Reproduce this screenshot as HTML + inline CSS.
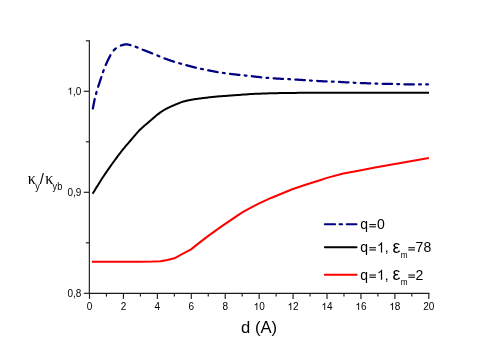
<!DOCTYPE html><html><head><meta charset="utf-8"><title>chart</title><style>html,body{margin:0;padding:0;background:#fff}svg{display:block;will-change:transform}text{font-family:"Liberation Sans",sans-serif;fill:#000}</style></head><body>
<svg width="498" height="352" viewBox="0 0 498 352">
<rect width="498" height="352" fill="#fff"/>
<g stroke="#1c1c1c" stroke-width="1.15" fill="none">
<path d="M89.35,40.20 V293.90"/>
<path d="M88.75,293.30 H429.40"/>
<path d="M89.50,293.30 v5.60"/>
<path d="M106.47,293.30 v3.30"/>
<path d="M123.43,293.30 v5.60"/>
<path d="M140.39,293.30 v3.30"/>
<path d="M157.36,293.30 v5.60"/>
<path d="M174.32,293.30 v3.30"/>
<path d="M191.29,293.30 v5.60"/>
<path d="M208.25,293.30 v3.30"/>
<path d="M225.22,293.30 v5.60"/>
<path d="M242.19,293.30 v3.30"/>
<path d="M259.15,293.30 v5.60"/>
<path d="M276.12,293.30 v3.30"/>
<path d="M293.08,293.30 v5.60"/>
<path d="M310.04,293.30 v3.30"/>
<path d="M327.01,293.30 v5.60"/>
<path d="M343.98,293.30 v3.30"/>
<path d="M360.94,293.30 v5.60"/>
<path d="M377.90,293.30 v3.30"/>
<path d="M394.87,293.30 v5.60"/>
<path d="M411.83,293.30 v3.30"/>
<path d="M428.80,293.30 v5.60"/>
<path d="M89.35,293.30 h-5.60"/>
<path d="M89.35,242.80 h-3.50"/>
<path d="M89.35,192.30 h-5.60"/>
<path d="M89.35,141.80 h-3.50"/>
<path d="M89.35,91.30 h-5.60"/>
<path d="M89.35,40.80 h-3.50"/>
</g>
<text x="86.72" y="310.00" font-size="10.00">0</text>
<text x="120.65" y="310.00" font-size="10.00">2</text>
<text x="154.58" y="310.00" font-size="10.00">4</text>
<text x="188.51" y="310.00" font-size="10.00">6</text>
<text x="222.44" y="310.00" font-size="10.00">8</text>
<path d="M763,0H583V1147Q518,1085 412.5,1023Q307,961 223,930V1104Q374,1175 487,1276Q600,1377 647,1472H763Z" transform="translate(253.59,310.00) scale(0.00488,-0.00488)" fill="#000"/>
<text x="259.15" y="310.00" font-size="10.00">0</text>
<path d="M763,0H583V1147Q518,1085 412.5,1023Q307,961 223,930V1104Q374,1175 487,1276Q600,1377 647,1472H763Z" transform="translate(287.52,310.00) scale(0.00488,-0.00488)" fill="#000"/>
<text x="293.08" y="310.00" font-size="10.00">2</text>
<path d="M763,0H583V1147Q518,1085 412.5,1023Q307,961 223,930V1104Q374,1175 487,1276Q600,1377 647,1472H763Z" transform="translate(321.45,310.00) scale(0.00488,-0.00488)" fill="#000"/>
<text x="327.01" y="310.00" font-size="10.00">4</text>
<path d="M763,0H583V1147Q518,1085 412.5,1023Q307,961 223,930V1104Q374,1175 487,1276Q600,1377 647,1472H763Z" transform="translate(355.38,310.00) scale(0.00488,-0.00488)" fill="#000"/>
<text x="360.94" y="310.00" font-size="10.00">6</text>
<path d="M763,0H583V1147Q518,1085 412.5,1023Q307,961 223,930V1104Q374,1175 487,1276Q600,1377 647,1472H763Z" transform="translate(389.31,310.00) scale(0.00488,-0.00488)" fill="#000"/>
<text x="394.87" y="310.00" font-size="10.00">8</text>
<text x="423.24" y="310.00" font-size="10.00">20</text>
<text x="67.40" y="296.60" font-size="10.00">0,8</text>
<text x="67.40" y="195.60" font-size="10.00">0,9</text>
<path d="M763,0H583V1147Q518,1085 412.5,1023Q307,961 223,930V1104Q374,1175 487,1276Q600,1377 647,1472H763Z" transform="translate(67.40,94.60) scale(0.00488,-0.00488)" fill="#000"/>
<text x="72.96" y="94.60" font-size="10.00">,0</text>
<text x="259.1" y="333.3" font-size="16.6" text-anchor="middle">d (A)</text>
<text y="183.6" font-size="16"><tspan x="27.8" font-family="Liberation Serif">κ</tspan><tspan x="35.3" font-size="11" dy="6.3" textLength="4.6" lengthAdjust="spacingAndGlyphs">y</tspan><tspan x="39.7" dy="-6.3" font-size="15">/</tspan><tspan x="45.3" font-family="Liberation Serif">κ</tspan><tspan x="52.6" font-size="11" dy="6.3" textLength="9.6" lengthAdjust="spacingAndGlyphs">yb</tspan></text>
<g fill="none" stroke="#000080" stroke-width="2.25" stroke-linejoin="round" stroke-linecap="round">
<path d="M92.86,108.42 L93.05,107.48 L93.25,106.45 L93.45,105.42 L93.65,104.39 L93.85,103.37 L94.05,102.35 L94.25,101.34 L94.46,100.35 L94.67,99.38 L94.75,99.01"/>
<path d="M96.04,93.85 L96.18,93.34 L96.40,92.56 L96.57,91.99"/>
<path d="M98.16,86.76 L98.19,86.66 L98.51,85.68 L98.83,84.66 L99.17,83.63 L99.52,82.57 L99.87,81.51 L100.22,80.45 L100.57,79.41 L100.92,78.38 L101.26,77.38 L101.33,77.18"/>
<path d="M103.04,72.07 L103.22,71.51 L103.47,70.78 L103.68,70.17"/>
<path d="M105.72,65.00 L105.98,64.40 L106.41,63.45 L106.86,62.47 L107.32,61.47 L107.79,60.48 L108.27,59.50 L108.74,58.54 L109.21,57.62 L109.66,56.75 L110.09,55.94 L110.44,55.30"/>
<path d="M113.68,50.45 L113.92,50.18 L114.30,49.79 L114.70,49.40 L115.13,49.01 L115.58,48.64 L115.84,48.44"/>
<path d="M120.88,45.59 L120.97,45.55 L121.43,45.37 L121.89,45.20 L122.35,45.05 L122.81,44.92 L123.26,44.80 L123.71,44.70 L124.16,44.61 L124.60,44.54 L125.04,44.48 L125.47,44.43 L125.90,44.40 L126.32,44.39 L126.73,44.39 L127.13,44.41 L127.52,44.45 L127.91,44.51 L128.29,44.58 L128.68,44.65 L129.07,44.74 L129.46,44.84 L129.87,44.94 L130.28,45.04 L130.49,45.10"/>
<path d="M135.61,46.78 L135.73,46.82 L136.20,47.00 L136.65,47.18 L137.08,47.35 L137.49,47.52 L137.54,47.54"/>
<path d="M142.70,49.72 L143.40,49.99 L144.24,50.32 L145.12,50.66 L146.04,51.01 L146.98,51.37 L147.94,51.74 L148.91,52.12 L149.88,52.49 L150.84,52.87 L151.78,53.24 L152.33,53.45"/>
<path d="M157.39,55.53 L158.08,55.82 L158.97,56.19 L159.33,56.34"/>
<path d="M164.51,58.38 L165.35,58.69 L166.29,59.03 L167.23,59.37 L168.17,59.71 L169.12,60.04 L170.06,60.36 L171.00,60.69 L171.94,61.00 L172.87,61.31 L173.79,61.61 L174.11,61.71"/>
<path d="M179.23,63.26 L179.95,63.46 L180.81,63.70 L181.09,63.78"/>
<path d="M186.33,65.21 L187.03,65.40 L187.96,65.65 L188.90,65.90 L189.84,66.15 L190.78,66.39 L191.73,66.64 L192.67,66.88 L193.61,67.12 L194.55,67.35 L195.48,67.58 L195.89,67.68"/>
<path d="M201.05,68.84 L201.81,69.00 L202.70,69.19 L202.88,69.22"/>
<path d="M208.15,70.29 L209.04,70.47 L209.97,70.65 L210.90,70.84 L211.83,71.02 L212.76,71.20 L213.70,71.38 L214.63,71.55 L215.55,71.72 L216.48,71.89 L217.39,72.05 L217.67,72.09"/>
<path d="M222.86,72.89 L223.61,73.00 L224.49,73.12 L224.67,73.14"/>
<path d="M229.96,73.84 L230.70,73.93 L231.60,74.04 L232.51,74.16 L233.42,74.27 L234.33,74.38 L235.24,74.48 L236.16,74.59 L237.07,74.69 L237.98,74.80 L238.89,74.90 L239.46,74.96"/>
<path d="M244.66,75.50 L245.21,75.55 L246.12,75.64 L246.46,75.67"/>
<path d="M251.76,76.22 L252.59,76.31 L253.56,76.42 L254.53,76.53 L255.50,76.65 L256.47,76.76 L257.45,76.88 L258.42,76.99 L259.38,77.10 L260.33,77.20 L261.26,77.30"/>
<path d="M266.47,77.80 L266.63,77.82 L267.49,77.89 L268.26,77.96"/>
<path d="M273.57,78.36 L273.59,78.36 L274.48,78.42 L275.38,78.47 L276.27,78.52 L277.17,78.57 L278.07,78.62 L278.98,78.67 L279.88,78.71 L280.79,78.76 L281.69,78.80 L282.60,78.85 L283.06,78.88"/>
<path d="M288.27,79.16 L288.93,79.19 L289.83,79.24 L290.06,79.26"/>
<path d="M295.37,79.56 L296.26,79.61 L297.19,79.67 L298.13,79.73 L299.07,79.78 L300.01,79.84 L300.95,79.90 L301.89,79.96 L302.83,80.02 L303.76,80.08 L304.68,80.14 L304.86,80.15"/>
<path d="M310.07,80.50 L310.07,80.50 L310.95,80.56 L311.83,80.62 L311.86,80.62"/>
<path d="M317.17,80.95 L317.22,80.95 L318.14,81.01 L319.07,81.06 L320.01,81.11 L320.95,81.17 L321.89,81.22 L322.84,81.27 L323.78,81.32 L324.72,81.37 L325.65,81.41 L326.58,81.46 L326.66,81.46"/>
<path d="M331.87,81.67 L332.01,81.67 L332.91,81.70 L333.66,81.72"/>
<path d="M338.97,81.93 L339.22,81.94 L340.14,81.99 L341.07,82.04 L342.00,82.09 L342.94,82.14 L343.87,82.19 L344.81,82.25 L345.74,82.30 L346.67,82.35 L347.59,82.40 L348.46,82.45"/>
<path d="M353.67,82.72 L353.75,82.72 L354.60,82.76 L355.45,82.80 L355.46,82.80"/>
<path d="M360.77,83.04 L361.61,83.07 L362.53,83.11 L363.46,83.14 L364.39,83.17 L365.32,83.21 L366.26,83.24 L367.20,83.27 L368.13,83.30 L369.06,83.33 L369.98,83.37 L370.26,83.38"/>
<path d="M375.47,83.58 L376.31,83.61 L377.21,83.65 L377.26,83.65"/>
<path d="M382.57,83.82 L382.61,83.82 L383.51,83.84 L384.42,83.86 L385.33,83.88 L386.24,83.89 L387.15,83.91 L388.06,83.92 L388.97,83.93 L389.88,83.95 L390.79,83.96 L391.69,83.98 L392.06,83.99"/>
<path d="M397.27,84.13 L397.96,84.16 L398.86,84.18 L399.06,84.19"/>
<path d="M404.37,84.32 L405.25,84.33 L406.16,84.34 L407.09,84.35 L408.01,84.36 L408.94,84.36 L409.89,84.37 L410.85,84.37 L411.83,84.38 L412.82,84.39 L413.85,84.39 L413.86,84.39"/>
<path d="M419.07,84.43 L419.41,84.43 L420.59,84.44 L420.86,84.44"/>
<path d="M426.17,84.48 L426.62,84.48 L427.82,84.49 L427.90,84.49"/>
</g>
<path d="M92.60,193.80 L93.33,192.60 L94.06,191.41 L94.79,190.22 L95.51,189.03 L96.24,187.84 L96.98,186.64 L97.73,185.42 L98.50,184.20 L99.27,182.98 L100.04,181.76 L100.81,180.54 L101.59,179.31 L102.39,178.06 L103.22,176.78 L104.09,175.46 L105.00,174.10 L105.97,172.68 L106.98,171.20 L108.04,169.68 L109.12,168.14 L110.22,166.58 L111.32,165.03 L112.42,163.50 L113.50,162.00 L114.57,160.53 L115.64,159.06 L116.70,157.60 L117.78,156.15 L118.85,154.71 L119.93,153.29 L121.01,151.89 L122.10,150.50 L123.20,149.14 L124.31,147.79 L125.42,146.47 L126.54,145.16 L127.66,143.86 L128.78,142.57 L129.90,141.28 L131.00,140.00 L132.10,138.71 L133.19,137.41 L134.27,136.11 L135.36,134.83 L136.44,133.56 L137.52,132.33 L138.61,131.14 L139.70,130.00 L140.79,128.93 L141.88,127.92 L142.98,126.95 L144.07,126.02 L145.17,125.10 L146.27,124.19 L147.38,123.26 L148.50,122.30 L149.64,121.30 L150.80,120.28 L151.98,119.24 L153.16,118.20 L154.33,117.18 L155.48,116.20 L156.61,115.26 L157.70,114.40 L158.75,113.60 L159.76,112.86 L160.75,112.16 L161.72,111.49 L162.68,110.86 L163.64,110.26 L164.61,109.67 L165.60,109.10 L166.61,108.55 L167.63,108.02 L168.66,107.53 L169.69,107.05 L170.72,106.59 L171.73,106.15 L172.73,105.72 L173.70,105.30 L174.66,104.88 L175.62,104.48 L176.58,104.08 L177.52,103.70 L178.43,103.34 L179.30,103.00 L180.13,102.68 L180.90,102.40 L181.56,102.16 L182.11,101.96 L182.58,101.79 L183.03,101.64 L183.49,101.50 L184.03,101.35 L184.68,101.19 L185.50,101.00 L186.49,100.78 L187.62,100.55 L188.85,100.30 L190.16,100.04 L191.51,99.79 L192.87,99.54 L194.21,99.31 L195.50,99.10 L196.75,98.91 L198.00,98.73 L199.25,98.56 L200.50,98.40 L201.75,98.25 L203.00,98.10 L204.25,97.95 L205.50,97.80 L206.75,97.65 L208.00,97.50 L209.25,97.36 L210.50,97.22 L211.75,97.08 L213.00,96.95 L214.25,96.82 L215.50,96.70 L216.75,96.58 L218.01,96.48 L219.27,96.37 L220.53,96.28 L221.79,96.18 L223.04,96.09 L224.27,95.99 L225.50,95.90 L226.65,95.81 L227.71,95.73 L228.73,95.65 L229.75,95.58 L230.84,95.50 L232.04,95.41 L233.41,95.31 L235.00,95.20 L236.84,95.07 L238.89,94.91 L241.10,94.75 L243.42,94.57 L245.83,94.40 L248.25,94.23 L250.66,94.08 L253.00,93.95 L255.27,93.84 L257.52,93.74 L259.76,93.65 L262.02,93.57 L264.32,93.50 L266.69,93.43 L269.14,93.37 L271.70,93.30 L274.31,93.24 L276.93,93.18 L279.59,93.12 L282.33,93.07 L285.20,93.02 L288.24,92.97 L291.50,92.93 L295.00,92.90 L298.71,92.87 L302.58,92.85 L306.61,92.84 L310.83,92.83 L315.26,92.82 L319.92,92.81 L324.83,92.81 L330.00,92.80 L335.54,92.80 L341.47,92.79 L347.70,92.79 L354.12,92.79 L360.66,92.80 L367.22,92.80 L373.70,92.80 L380.00,92.80 L386.17,92.80 L392.32,92.80 L398.45,92.80 L404.56,92.80 L410.67,92.80 L416.77,92.80 L422.88,92.80 L429.00,92.80" fill="none" stroke="#000" stroke-width="2.0" stroke-linejoin="round"/>
<path d="M91.90,261.80 L120.00,261.80 L140.00,261.80 L152.50,261.60 L160.50,261.15 L167.50,260.00 L174.40,258.30 L182.50,253.95 L191.00,249.35 L199.50,242.60 L208.60,235.65 L222.30,225.90 L235.90,216.60 L242.70,212.15 L250.00,208.10 L259.10,203.35 L271.10,197.95 L292.20,189.30 L306.30,184.55 L320.00,180.20 L327.00,177.90 L343.30,173.55 L357.20,170.90 L375.00,167.50 L402.00,162.70 L428.90,157.90" fill="none" stroke="#ff0000" stroke-width="2.0" stroke-linejoin="round"/>
<path d="M324.85,224.2 H335.05 M339.55,224.2 H342.05 M346.75,224.2 H356.45" stroke="#000080" stroke-width="2.15" stroke-linecap="round" fill="none"/>
<path d="M324.9,247.2 H356.5" stroke="#000" stroke-width="2.0" stroke-linecap="round" fill="none"/>
<path d="M324.9,274.75 H356.7" stroke="#ff0000" stroke-width="2.0" stroke-linecap="round" fill="none"/>
<text x="360.30" y="229.30" font-size="14.00">q</text>
<path d="M369.29,224.61 H375.94" stroke="#000" stroke-width="1.05" fill="none"/>
<path d="M369.29,226.85 H375.94" stroke="#000" stroke-width="1.05" fill="none"/>
<text x="377.10" y="229.30" font-size="14.00">0</text>
<text x="360.30" y="252.40" font-size="14.00">q</text>
<path d="M369.29,247.71 H375.94" stroke="#000" stroke-width="1.05" fill="none"/>
<path d="M369.29,249.95 H375.94" stroke="#000" stroke-width="1.05" fill="none"/>
<path d="M763,0H583V1147Q518,1085 412.5,1023Q307,961 223,930V1104Q374,1175 487,1276Q600,1377 647,1472H763Z" transform="translate(376.90,252.40) scale(0.00684,-0.00684)" fill="#000"/>
<text x="384.69" y="252.40" font-size="14.00">,</text>
<text y="252.7"><tspan x="392.6" font-size="17.7">ε</tspan><tspan x="400.8" dy="5.1" font-size="8.2">m</tspan></text>
<path d="M408.30,247.71 H414.95" stroke="#000" stroke-width="1.05" fill="none"/>
<path d="M408.30,249.95 H414.95" stroke="#000" stroke-width="1.05" fill="none"/>
<text x="415.60" y="252.40" font-size="14.00">78</text>
<text x="360.30" y="279.70" font-size="14.00">q</text>
<path d="M369.29,275.01 H375.94" stroke="#000" stroke-width="1.05" fill="none"/>
<path d="M369.29,277.25 H375.94" stroke="#000" stroke-width="1.05" fill="none"/>
<path d="M763,0H583V1147Q518,1085 412.5,1023Q307,961 223,930V1104Q374,1175 487,1276Q600,1377 647,1472H763Z" transform="translate(376.90,279.70) scale(0.00684,-0.00684)" fill="#000"/>
<text x="384.69" y="279.70" font-size="14.00">,</text>
<text y="280.0"><tspan x="392.6" font-size="17.7">ε</tspan><tspan x="400.8" dy="5.1" font-size="8.2">m</tspan></text>
<path d="M408.30,275.01 H414.95" stroke="#000" stroke-width="1.05" fill="none"/>
<path d="M408.30,277.25 H414.95" stroke="#000" stroke-width="1.05" fill="none"/>
<text x="415.60" y="279.70" font-size="14.00">2</text>
</svg></body></html>
